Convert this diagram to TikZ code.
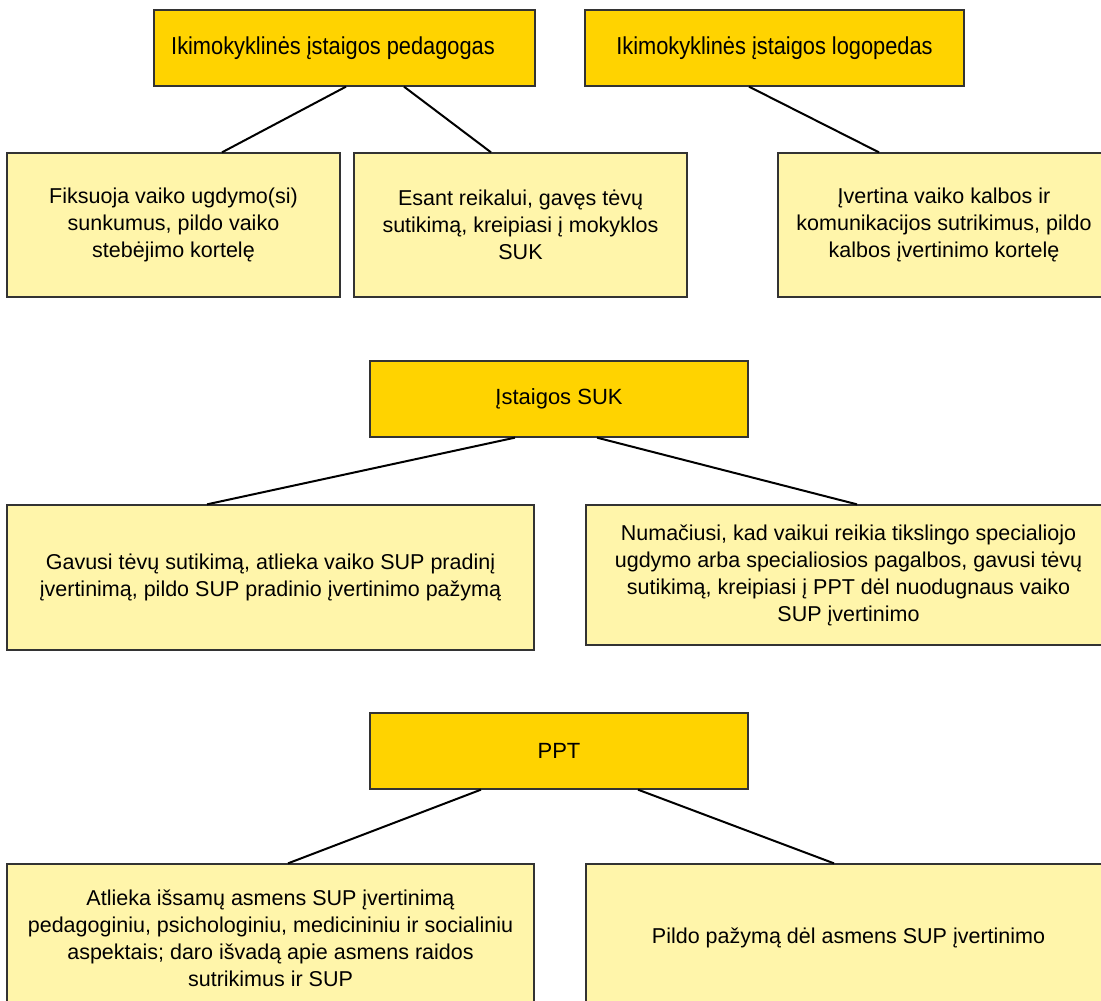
\documentclass[tikz,border=0pt]{standalone}
\usepackage{fontspec}
\setmainfont{Liberation Sans}
\newfontfamily\headfont[FakeStretch=0.89]{Liberation Sans}
\definecolor{darkbox}{HTML}{FFD300}
\definecolor{lightbox}{HTML}{FFF5AA}
\definecolor{edgegray}{HTML}{333333}
\tikzset{
  headbox/.style={draw=edgegray, line width=1.3pt, fill=darkbox, inner sep=0pt,
    minimum height=76pt, align=center, font=\fontsize{22}{27}\selectfont},
  tophead/.style={headbox, font=\headfont\fontsize{24.5}{27}\selectfont},
  taskbox/.style={draw=edgegray, line width=1.3pt, fill=lightbox, inner sep=0pt,
    align=center, font=\fontsize{21.5}{27}\selectfont},
  link/.style={draw=black, line width=2pt}
}
\begin{document}
\begin{tikzpicture}[x=1pt,y=-1pt]
\useasboundingbox (0,0) rectangle (1101,1001);
\clip (0,0) rectangle (1101,1001);
\fill[white] (0,0) rectangle (1101,1001);

% top row
\node[tophead, minimum width=381pt] (A) at (344.5,48) {Ikimokyklinės įstaigos pedagogas\hspace*{23pt}};
\node[tophead, minimum width=379pt] (B) at (774.5,48) {Ikimokyklinės įstaigos logopedas};

\node[taskbox, minimum width=333pt, minimum height=144pt] (C1) at (173.5,225)
  {Fiksuoja vaiko ugdymo(si)\\sunkumus, pildo vaiko\\stebėjimo kortelę};
\node[taskbox, minimum width=333pt, minimum height=144pt] (C2) at (520.5,225)
  {Esant reikalui, gavęs tėvų\\sutikimą, kreipiasi į mokyklos\\SUK};
\node[taskbox, minimum width=332pt, minimum height=144pt] (C3) at (944,225)
  {Įvertina vaiko kalbos ir\\komunikacijos sutrikimus, pildo\\kalbos įvertinimo kortelę};

% middle row
\node[headbox, minimum width=378pt] (S) at (559,399) {Įstaigos SUK};
\node[taskbox, minimum width=527pt, minimum height=145pt] (D1) at (270.5,577.5)
  {Gavusi tėvų sutikimą, atlieka vaiko SUP pradinį\\įvertinimą, pildo SUP pradinio įvertinimo pažymą};
\node[taskbox, minimum width=525pt, minimum height=140pt] (D2) at (848.5,575)
  {Numačiusi, kad vaikui reikia tikslingo specialiojo\\ugdymo arba specialiosios pagalbos, gavusi tėvų\\sutikimą, kreipiasi į PPT dėl nuodugnaus vaiko\\SUP įvertinimo};

% bottom row
\node[headbox, minimum width=378pt] (P) at (559,751) {PPT};
\node[taskbox, minimum width=527pt, minimum height=148pt] (E1) at (270.5,938)
  {Atlieka išsamų asmens SUP įvertinimą\\pedagoginiu, psichologiniu, medicininiu ir socialiniu\\aspektais; daro išvadą apie asmens raidos\\sutrikimus ir SUP};
\node[taskbox, minimum width=525pt, minimum height=148pt] (E2) at (848.5,938)
  {Pildo pažymą dėl asmens SUP įvertinimo};

% connectors
\draw[link] ([xshift=1.5pt]A.south) -- ([xshift=48.5pt]C1.north);
\draw[link] ([xshift=59.5pt]A.south) -- ([xshift=-29.5pt]C2.north);
\draw[link] ([xshift=-25.5pt]B.south) -- ([xshift=-65pt]C3.north);
\draw[link] ([xshift=-44pt]S.south) -- ([xshift=-63.5pt]D1.north);
\draw[link] ([xshift=38pt]S.south) -- ([xshift=8.5pt]D2.north);
\draw[link] ([xshift=-78pt]P.south) -- ([xshift=17.5pt]E1.north);
\draw[link] ([xshift=79pt]P.south) -- ([xshift=-14.5pt]E2.north);
\end{tikzpicture}
\end{document}
